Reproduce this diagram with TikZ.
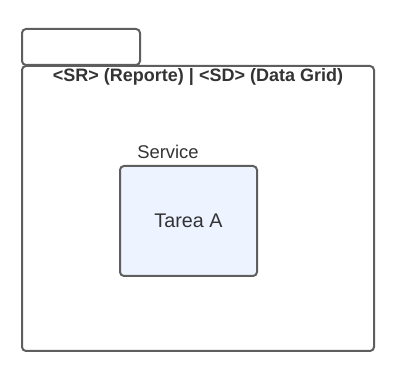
\documentclass[tikz,border=0pt]{standalone}
\usepackage{fontspec}
\setmainfont{Liberation Sans}
\definecolor{edge}{HTML}{5E5E5E}
\definecolor{taskfill}{HTML}{EDF4FF}
\definecolor{ink}{HTML}{333333}
\begin{document}
\begin{tikzpicture}[x=0.75pt,y=-0.75pt,
  outline/.style={draw=edge,line width=1.5pt,rounded corners=3pt},
  titletext/.style={font=\fontsize{13.5pt}{15pt}\selectfont\bfseries,text=ink},
  labeltext/.style={font=\fontsize{13.8pt}{15pt}\selectfont,text=ink}]
  \useasboundingbox (0,0) rectangle (397,381);
  % package tab and body
  \draw[outline] (22,29) rectangle (140,65);
  \draw[outline] (22,66) rectangle (374,351);
  \node[titletext] (title) at (198,77) {<SR> (Reporte) | <SD> (Data Grid)};
  % component inside the package
  \node[outline,fill=taskfill,minimum width=137*0.75pt,minimum height=110*0.75pt,
        inner sep=0pt,font=\fontsize{14.8pt}{17pt}\selectfont,text=ink] (task) at (188.5,221) {Tarea A};
  \node[labeltext,anchor=south] (stereo) at (168,163) {Service};
\end{tikzpicture}
\end{document}
